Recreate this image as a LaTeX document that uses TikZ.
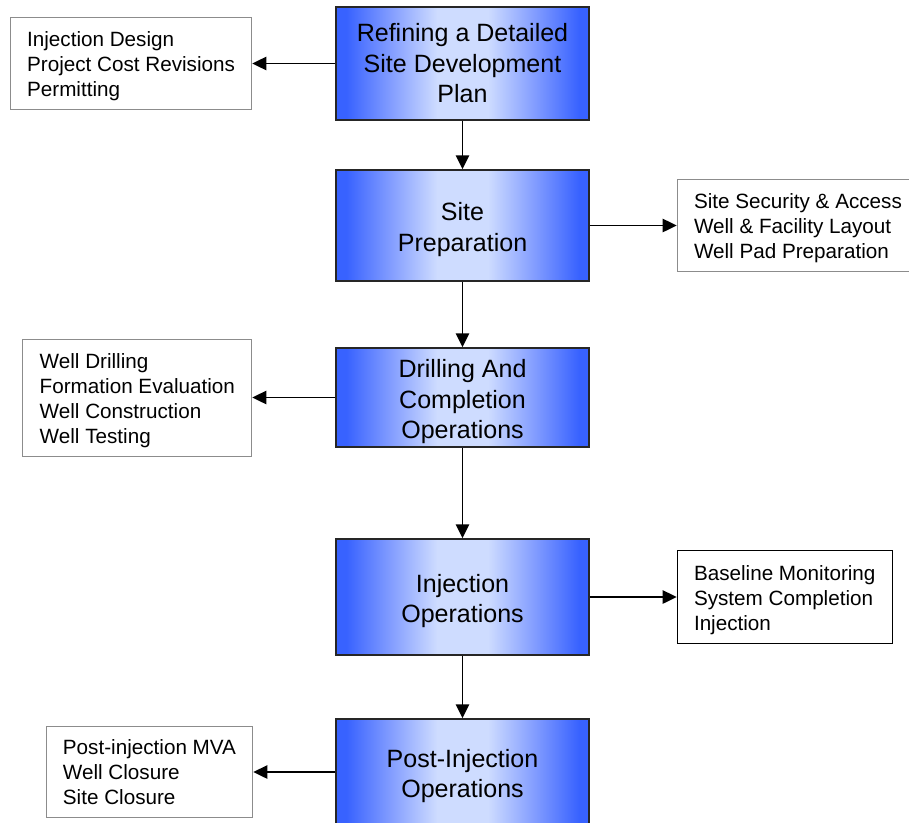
\documentclass[tikz,border=0pt]{standalone}
\usepackage{fontspec}
\setmainfont{Liberation Sans}
\usetikzlibrary{arrows.meta, positioning}

\definecolor{stageblue}{RGB}{56,98,255}
\definecolor{stagemid}{RGB}{132,158,255}
\definecolor{stagelight}{RGB}{206,220,255}
\definecolor{notegray}{RGB}{140,140,140}

\pgfdeclarehorizontalshading{stageshade}{100bp}{color(0bp)=(stageblue); color(27bp)=(stageblue); color(36bp)=(stagemid); color(45bp)=(stagelight); color(55bp)=(stagelight); color(64bp)=(stagemid); color(73bp)=(stageblue); color(100bp)=(stageblue)}

\tikzset{
    stage/.style={draw=black!85, line width=1pt, shading=stageshade, minimum width=6.325cm, inner sep=0pt, align=center, font=\fontsize{17.8}{21.7}\selectfont},
    note/.style={draw=notegray, line width=0.7pt, fill=white, inner xsep=0.42cm, inner ysep=0pt, align=left, font=\fontsize{14.7}{17.8}\selectfont},
    flow/.style={line width=1.4pt, -{Triangle[length=0.35cm, width=0.33cm]}}
}
% taller first line, so the text sits a little lower in its box
\newcommand{\stagetop}{\rule{0pt}{18.9pt}}
\newcommand{\notetop}{\rule{0pt}{15pt}}

\begin{document}
\begin{tikzpicture}
    \useasboundingbox (0, 0) rectangle (22.725, -20.55);

    % Stages (x=11.56)
    \node[stage, minimum height=2.825cm] (plan) at (11.5625, -1.5875) {Refining a Detailed\\Site Development\\Plan};
    \node[stage, minimum height=2.775cm] (prep) at (11.5625, -5.6375) {\stagetop Site\\Preparation};
    \node[stage, minimum height=2.475cm] (drill) at (11.5625, -9.9375) {\stagetop Drilling And\\Completion\\Operations};
    \node[stage, minimum height=2.9cm] (inject) at (11.5625, -14.925) {\stagetop Injection\\Operations};
    \node[stage, minimum height=2.65cm] (post) at (11.5625, -19.3) {\stagetop Post-Injection\\Operations};

    % Task lists
    \node[note, minimum height=2.3cm, left=2.075cm of plan] (planNotes) {\notetop Injection Design\\Project Cost Revisions\\Permitting};
    \node[note, minimum height=2.3cm, right=2.175cm of prep] (prepNotes) {\notetop Site Security \& Access\\Well \& Facility Layout\\Well Pad Preparation};
    \node[note, minimum height=2.925cm, left=2.075cm of drill] (drillNotes) {\notetop Well Drilling\\Formation Evaluation\\Well Construction\\Well Testing};
    \node[note, draw=black, minimum height=2.325cm, right=2.175cm of inject] (injectNotes) {\notetop Baseline Monitoring\\System Completion\\Injection};
    \node[note, minimum height=2.275cm, left=2.05cm of post] (postNotes) {Post-injection MVA\\Well Closure\\Site Closure};

    % Arrows
    \draw[flow] (plan) -- (prep);
    \draw[flow] (prep) -- (drill);
    \draw[flow] (drill) -- (inject);
    \draw[flow] (inject) -- (post);
    \draw[flow] (plan) -- (planNotes);
    \draw[flow] (prep) -- (prepNotes);
    \draw[flow] (drill) -- (drillNotes);
    \draw[flow] (inject) -- (injectNotes);
    \draw[flow] (post) -- (postNotes);
\end{tikzpicture}
\end{document}
